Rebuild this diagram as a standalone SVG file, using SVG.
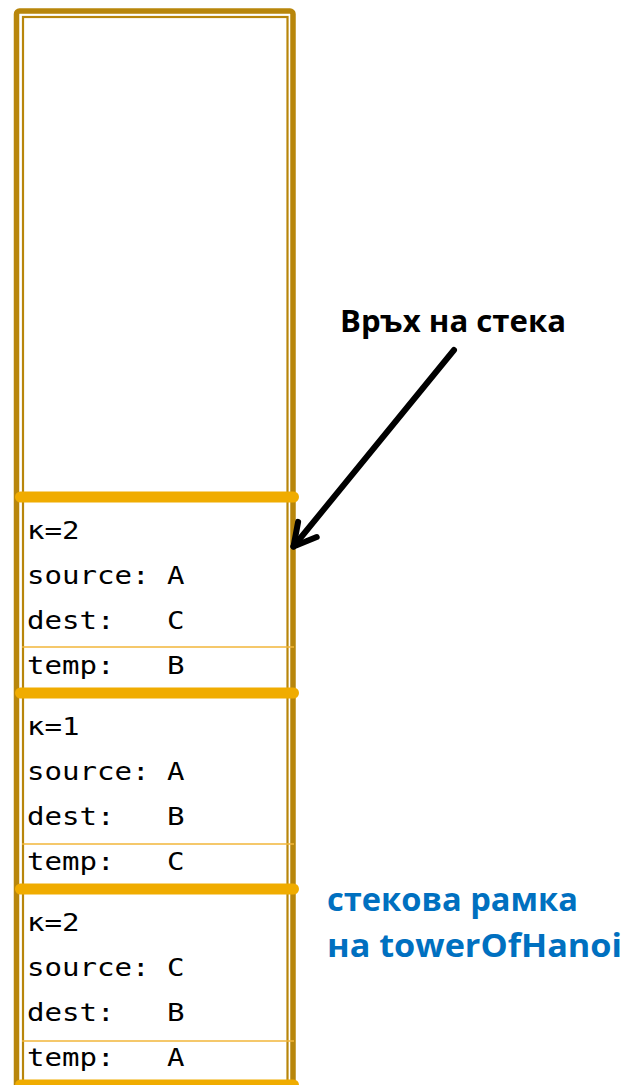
<svg xmlns="http://www.w3.org/2000/svg" width="625" height="1085" viewBox="0 0 625 1085">
  <style>
    .outer { fill: none; stroke: #B8860B; stroke-width: 5.5; }
    .inner { fill: none; stroke: #B8860B; stroke-width: 2.2; }
    .bar { stroke: #F0AC00; stroke-width: 11; stroke-linecap: round; }
    .rule { stroke: #F2B63A; stroke-width: 1.5; }
    .mono { font-family: "DejaVu Sans Mono", "Liberation Mono", monospace; font-size: 25px; fill: #000; }
    .title { font-family: "Open Sans", "Noto Sans", sans-serif; font-weight: bold; font-size: 31px; fill: #000; }
    .note { font-family: "Open Sans", "Noto Sans", sans-serif; font-weight: bold; font-size: 33px; fill: #0070C0; }
    .arrow { fill: none; stroke: #000; stroke-width: 6; stroke-linecap: round; stroke-linejoin: round; }
  </style>
  <defs>
    <marker id="open-head" markerUnits="userSpaceOnUse" markerWidth="40" markerHeight="40" refX="0" refY="0" orient="auto" overflow="visible">
      <path d="M -22 -12 L 0 0 L -22 12" fill="none" stroke="#000" stroke-width="6" stroke-linecap="round" stroke-linejoin="round"/>
    </marker>
  </defs>

  <rect width="625" height="1085" fill="#fff"/>

  <!-- stack column: double gold border -->
  <g id="stack">
    <rect class="outer" x="16.5" y="11" width="276.5" height="1100" rx="3"/>
    <rect class="inner" x="23" y="17" width="264.5" height="1100"/>
  </g>

  <!-- frame: k=2, A -> C via B (top of stack) -->
  <g id="frame-top">
    <line class="bar" x1="20.5" y1="497" x2="293.5" y2="497"/>
    <line class="rule" x1="22" y1="647" x2="294" y2="647"/>
    <text class="mono" x="27" y="539" textLength="52.5" lengthAdjust="spacingAndGlyphs">к=2</text>
    <text class="mono" x="27" y="584" textLength="157.5" lengthAdjust="spacingAndGlyphs" xml:space="preserve">source: A</text>
    <text class="mono" x="27" y="629" textLength="157.5" lengthAdjust="spacingAndGlyphs" xml:space="preserve">dest:   C</text>
    <text class="mono" x="27" y="674" textLength="157.5" lengthAdjust="spacingAndGlyphs" xml:space="preserve">temp:   B</text>
  </g>

  <!-- frame: k=1, A -> B via C -->
  <g id="frame-middle">
    <line class="bar" x1="20.5" y1="693" x2="293.5" y2="693"/>
    <line class="rule" x1="22" y1="844" x2="294" y2="844"/>
    <text class="mono" x="27" y="735" textLength="52.5" lengthAdjust="spacingAndGlyphs">к=1</text>
    <text class="mono" x="27" y="780" textLength="157.5" lengthAdjust="spacingAndGlyphs" xml:space="preserve">source: A</text>
    <text class="mono" x="27" y="825" textLength="157.5" lengthAdjust="spacingAndGlyphs" xml:space="preserve">dest:   B</text>
    <text class="mono" x="27" y="870" textLength="157.5" lengthAdjust="spacingAndGlyphs" xml:space="preserve">temp:   C</text>
  </g>

  <!-- frame: k=2, C -> B via A -->
  <g id="frame-bottom">
    <line class="bar" x1="20.5" y1="889" x2="293.5" y2="889"/>
    <line class="rule" x1="22" y1="1041" x2="294" y2="1041"/>
    <line class="bar" x1="20.5" y1="1085" x2="293.5" y2="1085"/>
    <text class="mono" x="27" y="931" textLength="52.5" lengthAdjust="spacingAndGlyphs">к=2</text>
    <text class="mono" x="27" y="976" textLength="157.5" lengthAdjust="spacingAndGlyphs" xml:space="preserve">source: C</text>
    <text class="mono" x="27" y="1021" textLength="157.5" lengthAdjust="spacingAndGlyphs" xml:space="preserve">dest:   B</text>
    <text class="mono" x="27" y="1066" textLength="157.5" lengthAdjust="spacingAndGlyphs" xml:space="preserve">temp:   A</text>
  </g>

  <!-- label: top of the stack -->
  <g id="label-top">
    <text class="title" x="340" y="332" textLength="226" lengthAdjust="spacingAndGlyphs">Връх на стека</text>
  </g>

  <!-- label: frame description -->
  <g id="label-frame">
    <text class="note" x="327" y="911" textLength="251" lengthAdjust="spacingAndGlyphs">стекова рамка</text>
    <text class="note" x="327" y="957" textLength="295" lengthAdjust="spacingAndGlyphs">на towerOfHanoi</text>
  </g>

  <!-- connectors -->
  <g id="connectors">
    <path class="arrow" d="M 454 350 L 293.5 546.5" marker-end="url(#open-head)"/>
  </g>
</svg>
